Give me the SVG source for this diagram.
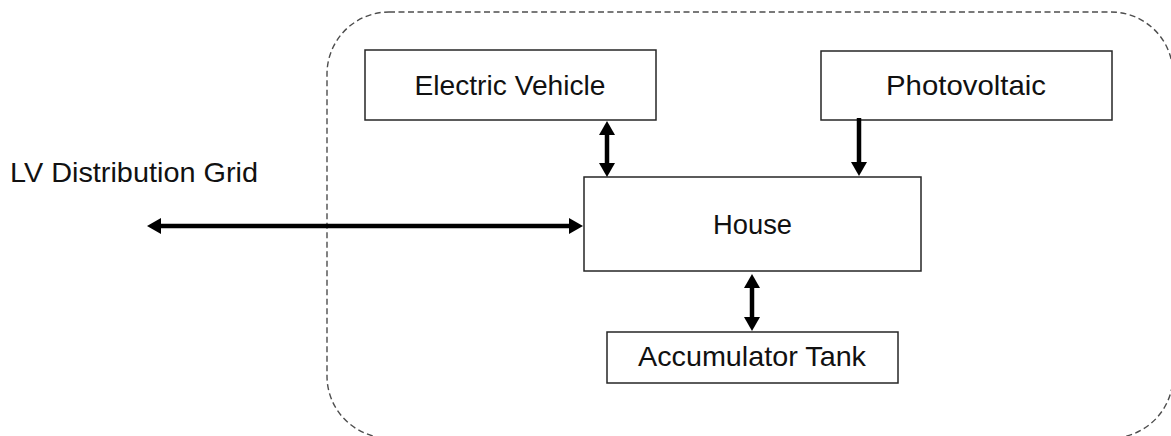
<svg xmlns="http://www.w3.org/2000/svg" width="1171" height="436" viewBox="0 0 1171 436">
  <style>
    .box { fill: #ffffff; stroke: #262626; stroke-width: 1.5; }
    .label { font-family: "Liberation Sans", Arial, sans-serif; font-size: 28px; fill: #111111; text-anchor: middle; }
    .boundary { fill: none; stroke: #4d4d4d; stroke-width: 1.4; stroke-dasharray: 6 3.5; }
    .link { fill: none; stroke: #000000; stroke-width: 4.5; }
  </style>
  <defs>
    <marker id="head" viewBox="0 0 14 16" markerWidth="14" markerHeight="16" refX="4" refY="8" markerUnits="userSpaceOnUse" orient="auto-start-reverse">
      <path d="M0,0 L14,8 L0,16 z" fill="#000000"/>
    </marker>
  </defs>

  <rect width="1171" height="436" fill="#ffffff"/>

  <!-- household system boundary -->
  <rect id="boundary" class="boundary" x="327" y="12" width="846" height="426" rx="62" ry="62"/>

  <!-- grid label -->
  <g id="grid">
    <text class="label" x="134" y="182" textLength="248" lengthAdjust="spacingAndGlyphs">LV Distribution Grid</text>
  </g>

  <g id="electric-vehicle">
    <rect class="box" x="365" y="50" width="291" height="70"/>
    <text class="label" x="510" y="95" textLength="191" lengthAdjust="spacingAndGlyphs">Electric Vehicle</text>
  </g>

  <g id="photovoltaic">
    <rect class="box" x="821" y="51" width="291" height="69"/>
    <text class="label" x="966" y="95" textLength="160" lengthAdjust="spacingAndGlyphs">Photovoltaic</text>
  </g>

  <g id="house">
    <rect class="box" x="584" y="177" width="337" height="94"/>
    <text class="label" x="752.5" y="234" textLength="79" lengthAdjust="spacingAndGlyphs">House</text>
  </g>

  <g id="accumulator-tank">
    <rect class="box" x="607" y="332" width="291" height="51"/>
    <text class="label" x="752" y="366" textLength="228" lengthAdjust="spacingAndGlyphs">Accumulator Tank</text>
  </g>

  <!-- energy flows -->
  <g id="connectors">
    <path class="link" d="M157,226 L573,226" marker-start="url(#head)" marker-end="url(#head)"/>
    <path class="link" d="M607,131 L607,167" marker-start="url(#head)" marker-end="url(#head)"/>
    <path class="link" d="M859,118 L859,166" marker-end="url(#head)"/>
    <path class="link" d="M752,284 L752,321" marker-start="url(#head)" marker-end="url(#head)"/>
  </g>
</svg>
